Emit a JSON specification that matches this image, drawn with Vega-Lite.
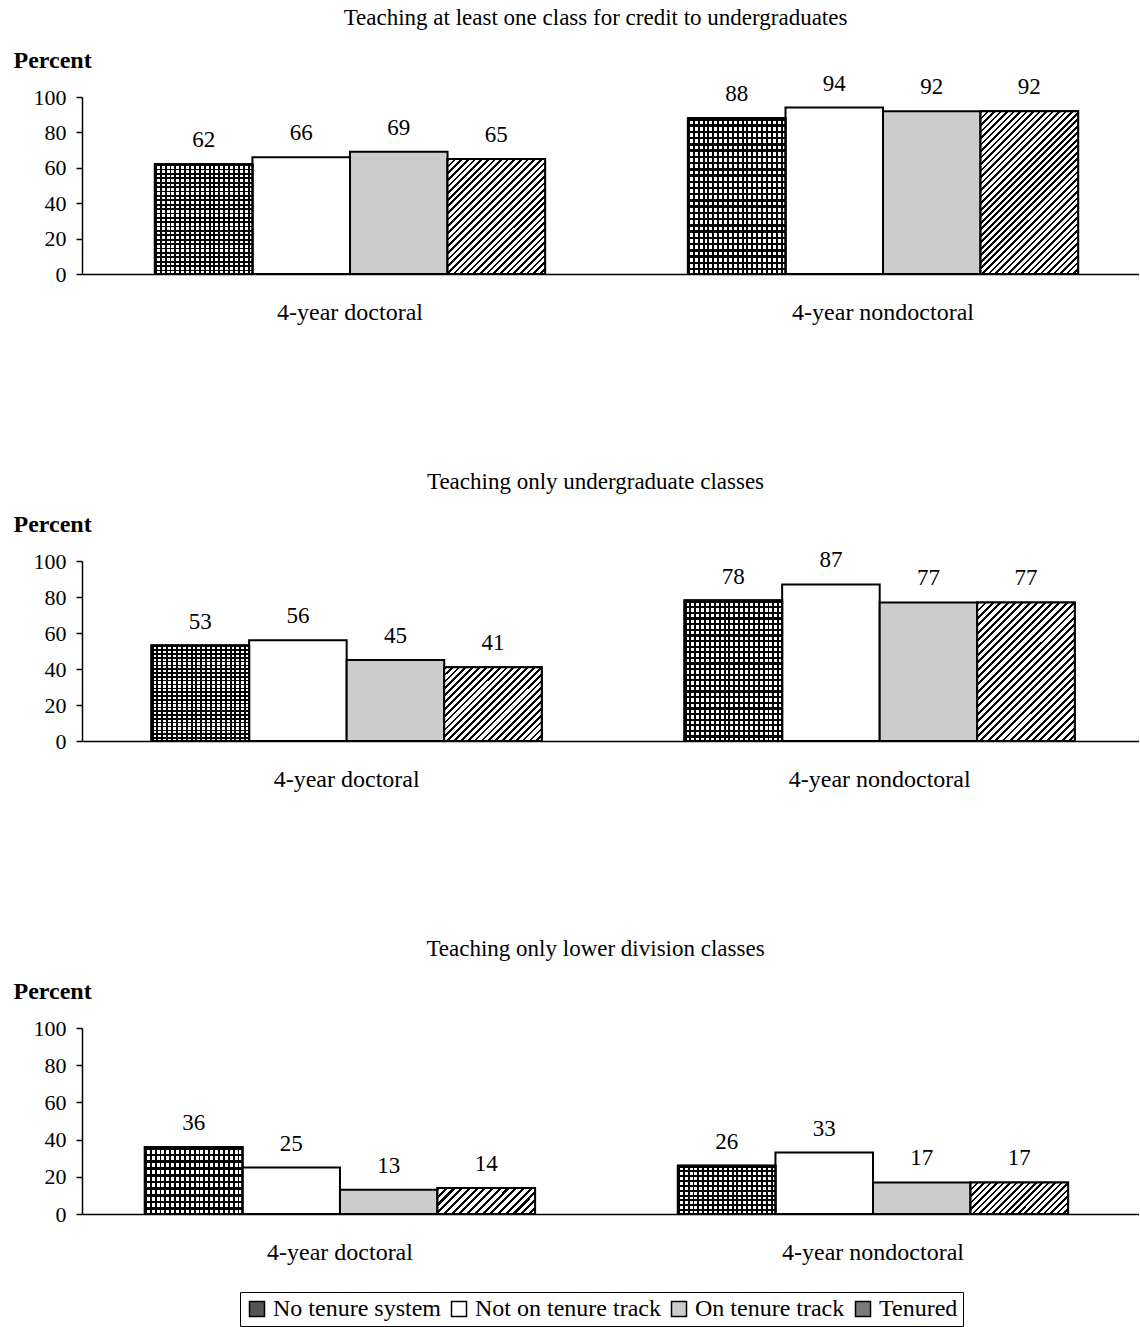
{
  "$schema": "https://vega.github.io/schema/vega-lite/v6.json",
  "padding": {"left": 13, "top": 7, "right": 0, "bottom": 0},
  "background": "white",
  "datasets": {
    "d": [
      {"panel": 1, "group": "4-year doctoral", "status": "No tenure system", "value": 62},
      {"panel": 1, "group": "4-year doctoral", "status": "Not on tenure track", "value": 66},
      {"panel": 1, "group": "4-year doctoral", "status": "On tenure track", "value": 69},
      {"panel": 1, "group": "4-year doctoral", "status": "Tenured", "value": 65},
      {"panel": 1, "group": "4-year nondoctoral", "status": "No tenure system", "value": 88},
      {"panel": 1, "group": "4-year nondoctoral", "status": "Not on tenure track", "value": 94},
      {"panel": 1, "group": "4-year nondoctoral", "status": "On tenure track", "value": 92},
      {"panel": 1, "group": "4-year nondoctoral", "status": "Tenured", "value": 92},
      {"panel": 2, "group": "4-year doctoral", "status": "No tenure system", "value": 53},
      {"panel": 2, "group": "4-year doctoral", "status": "Not on tenure track", "value": 56},
      {"panel": 2, "group": "4-year doctoral", "status": "On tenure track", "value": 45},
      {"panel": 2, "group": "4-year doctoral", "status": "Tenured", "value": 41},
      {"panel": 2, "group": "4-year nondoctoral", "status": "No tenure system", "value": 78},
      {"panel": 2, "group": "4-year nondoctoral", "status": "Not on tenure track", "value": 87},
      {"panel": 2, "group": "4-year nondoctoral", "status": "On tenure track", "value": 77},
      {"panel": 2, "group": "4-year nondoctoral", "status": "Tenured", "value": 77},
      {"panel": 3, "group": "4-year doctoral", "status": "No tenure system", "value": 36},
      {"panel": 3, "group": "4-year doctoral", "status": "Not on tenure track", "value": 25},
      {"panel": 3, "group": "4-year doctoral", "status": "On tenure track", "value": 13},
      {"panel": 3, "group": "4-year doctoral", "status": "Tenured", "value": 14},
      {"panel": 3, "group": "4-year nondoctoral", "status": "No tenure system", "value": 26},
      {"panel": 3, "group": "4-year nondoctoral", "status": "Not on tenure track", "value": 33},
      {"panel": 3, "group": "4-year nondoctoral", "status": "On tenure track", "value": 17},
      {"panel": 3, "group": "4-year nondoctoral", "status": "Tenured", "value": 17}
    ]
  },
  "spacing": 147,
  "vconcat": [
    {
      "title": {"text": "Teaching at least one class for credit to undergraduates"},
      "width": 1057, "height": 177,
      "data": {"name": "d"},
      "transform": [{"filter": "datum.panel == 1"}],
      "encoding": {
        "x": {"field": "group", "type": "nominal", "title": null, "sort": ["4-year doctoral", "4-year nondoctoral"], "scale": {"paddingInner": 0.268, "paddingOuter": 0.1255, "align": 0.545}},
        "xOffset": {"field": "status", "type": "nominal", "scale": {"domain": ["No tenure system", "Not on tenure track", "On tenure track", "Tenured"], "paddingInner": 0, "paddingOuter": 0}},
        "y": {"field": "value", "type": "quantitative", "title": "Percent", "scale": {"domain": [0, 100]}}
      },
      "layer": [
        {"mark": {"type": "bar", "stroke": "#000", "strokeWidth": 2},
         "encoding": {"color": {"field": "status", "type": "nominal", "scale": {"domain": ["No tenure system", "Not on tenure track", "On tenure track", "Tenured"], "range": ["#555555", "#ffffff", "#cccccc", "#7a7a7a"]}, "legend": {"orient": "none", "legendX": 158, "legendY": 1195, "direction": "horizontal", "title": null}}}},
        {"transform": [{"filter": "datum.status == 'No tenure system'"}], "mark": {"type": "bar", "stroke": "#000", "strokeWidth": 2, "fill": {"gradient":"linear","x1":0,"y1":0,"x2":1,"y2":0,"stops":[{"offset":0,"color":"#000"},{"offset":0.02,"color":"#000"},{"offset":0.02,"color":"#fff"},{"offset":0.05,"color":"#fff"},{"offset":0.05,"color":"#000"},{"offset":0.07,"color":"#000"},{"offset":0.07,"color":"#fff"},{"offset":0.1,"color":"#fff"},{"offset":0.1,"color":"#000"},{"offset":0.12,"color":"#000"},{"offset":0.12,"color":"#fff"},{"offset":0.15,"color":"#fff"},{"offset":0.15,"color":"#000"},{"offset":0.17,"color":"#000"},{"offset":0.17,"color":"#fff"},{"offset":0.2,"color":"#fff"},{"offset":0.2,"color":"#000"},{"offset":0.22,"color":"#000"},{"offset":0.22,"color":"#fff"},{"offset":0.25,"color":"#fff"},{"offset":0.25,"color":"#000"},{"offset":0.27,"color":"#000"},{"offset":0.27,"color":"#fff"},{"offset":0.3,"color":"#fff"},{"offset":0.3,"color":"#000"},{"offset":0.32,"color":"#000"},{"offset":0.32,"color":"#fff"},{"offset":0.35,"color":"#fff"},{"offset":0.35,"color":"#000"},{"offset":0.37,"color":"#000"},{"offset":0.37,"color":"#fff"},{"offset":0.4,"color":"#fff"},{"offset":0.4,"color":"#000"},{"offset":0.42,"color":"#000"},{"offset":0.42,"color":"#fff"},{"offset":0.45,"color":"#fff"},{"offset":0.45,"color":"#000"},{"offset":0.47,"color":"#000"},{"offset":0.47,"color":"#fff"},{"offset":0.5,"color":"#fff"},{"offset":0.5,"color":"#000"},{"offset":0.52,"color":"#000"},{"offset":0.52,"color":"#fff"},{"offset":0.55,"color":"#fff"},{"offset":0.55,"color":"#000"},{"offset":0.57,"color":"#000"},{"offset":0.57,"color":"#fff"},{"offset":0.6,"color":"#fff"},{"offset":0.6,"color":"#000"},{"offset":0.62,"color":"#000"},{"offset":0.62,"color":"#fff"},{"offset":0.65,"color":"#fff"},{"offset":0.65,"color":"#000"},{"offset":0.67,"color":"#000"},{"offset":0.67,"color":"#fff"},{"offset":0.7,"color":"#fff"},{"offset":0.7,"color":"#000"},{"offset":0.72,"color":"#000"},{"offset":0.72,"color":"#fff"},{"offset":0.75,"color":"#fff"},{"offset":0.75,"color":"#000"},{"offset":0.77,"color":"#000"},{"offset":0.77,"color":"#fff"},{"offset":0.8,"color":"#fff"},{"offset":0.8,"color":"#000"},{"offset":0.82,"color":"#000"},{"offset":0.82,"color":"#fff"},{"offset":0.85,"color":"#fff"},{"offset":0.85,"color":"#000"},{"offset":0.87,"color":"#000"},{"offset":0.87,"color":"#fff"},{"offset":0.9,"color":"#fff"},{"offset":0.9,"color":"#000"},{"offset":0.92,"color":"#000"},{"offset":0.92,"color":"#fff"},{"offset":0.95,"color":"#fff"},{"offset":0.95,"color":"#000"},{"offset":0.97,"color":"#000"},{"offset":0.97,"color":"#fff"},{"offset":1,"color":"#fff"}]}}},
        {"transform": [{"filter": "datum.status == 'No tenure system'"}], "mark": {"type": "bar", "stroke": "#000", "strokeWidth": 2, "fill": {"gradient":"linear","x1":0,"y1":0,"x2":0,"y2":1,"stops":[{"offset":0,"color":"#000"},{"offset":0.016,"color":"#000"},{"offset":0.016,"color":"transparent"},{"offset":0.04,"color":"transparent"},{"offset":0.04,"color":"#000"},{"offset":0.056,"color":"#000"},{"offset":0.056,"color":"transparent"},{"offset":0.08,"color":"transparent"},{"offset":0.08,"color":"#000"},{"offset":0.096,"color":"#000"},{"offset":0.096,"color":"transparent"},{"offset":0.12,"color":"transparent"},{"offset":0.12,"color":"#000"},{"offset":0.136,"color":"#000"},{"offset":0.136,"color":"transparent"},{"offset":0.16,"color":"transparent"},{"offset":0.16,"color":"#000"},{"offset":0.176,"color":"#000"},{"offset":0.176,"color":"transparent"},{"offset":0.2,"color":"transparent"},{"offset":0.2,"color":"#000"},{"offset":0.216,"color":"#000"},{"offset":0.216,"color":"transparent"},{"offset":0.24,"color":"transparent"},{"offset":0.24,"color":"#000"},{"offset":0.256,"color":"#000"},{"offset":0.256,"color":"transparent"},{"offset":0.28,"color":"transparent"},{"offset":0.28,"color":"#000"},{"offset":0.296,"color":"#000"},{"offset":0.296,"color":"transparent"},{"offset":0.32,"color":"transparent"},{"offset":0.32,"color":"#000"},{"offset":0.336,"color":"#000"},{"offset":0.336,"color":"transparent"},{"offset":0.36,"color":"transparent"},{"offset":0.36,"color":"#000"},{"offset":0.376,"color":"#000"},{"offset":0.376,"color":"transparent"},{"offset":0.4,"color":"transparent"},{"offset":0.4,"color":"#000"},{"offset":0.416,"color":"#000"},{"offset":0.416,"color":"transparent"},{"offset":0.44,"color":"transparent"},{"offset":0.44,"color":"#000"},{"offset":0.456,"color":"#000"},{"offset":0.456,"color":"transparent"},{"offset":0.48,"color":"transparent"},{"offset":0.48,"color":"#000"},{"offset":0.496,"color":"#000"},{"offset":0.496,"color":"transparent"},{"offset":0.52,"color":"transparent"},{"offset":0.52,"color":"#000"},{"offset":0.536,"color":"#000"},{"offset":0.536,"color":"transparent"},{"offset":0.56,"color":"transparent"},{"offset":0.56,"color":"#000"},{"offset":0.576,"color":"#000"},{"offset":0.576,"color":"transparent"},{"offset":0.6,"color":"transparent"},{"offset":0.6,"color":"#000"},{"offset":0.616,"color":"#000"},{"offset":0.616,"color":"transparent"},{"offset":0.64,"color":"transparent"},{"offset":0.64,"color":"#000"},{"offset":0.656,"color":"#000"},{"offset":0.656,"color":"transparent"},{"offset":0.68,"color":"transparent"},{"offset":0.68,"color":"#000"},{"offset":0.696,"color":"#000"},{"offset":0.696,"color":"transparent"},{"offset":0.72,"color":"transparent"},{"offset":0.72,"color":"#000"},{"offset":0.736,"color":"#000"},{"offset":0.736,"color":"transparent"},{"offset":0.76,"color":"transparent"},{"offset":0.76,"color":"#000"},{"offset":0.776,"color":"#000"},{"offset":0.776,"color":"transparent"},{"offset":0.8,"color":"transparent"},{"offset":0.8,"color":"#000"},{"offset":0.816,"color":"#000"},{"offset":0.816,"color":"transparent"},{"offset":0.84,"color":"transparent"},{"offset":0.84,"color":"#000"},{"offset":0.856,"color":"#000"},{"offset":0.856,"color":"transparent"},{"offset":0.88,"color":"transparent"},{"offset":0.88,"color":"#000"},{"offset":0.896,"color":"#000"},{"offset":0.896,"color":"transparent"},{"offset":0.92,"color":"transparent"},{"offset":0.92,"color":"#000"},{"offset":0.936,"color":"#000"},{"offset":0.936,"color":"transparent"},{"offset":0.96,"color":"transparent"},{"offset":0.96,"color":"#000"},{"offset":0.976,"color":"#000"},{"offset":0.976,"color":"transparent"},{"offset":1,"color":"transparent"}]}}},
        {"transform": [{"filter": "datum.status == 'Tenured' && datum.group == '4-year doctoral'"}], "mark": {"type": "bar", "stroke": "#000", "strokeWidth": 2, "fill": {"gradient":"linear","x1":0,"y1":0,"x2":0.911,"y2":1.075,"stops":[{"offset":0,"color":"#000"},{"offset":0.0125,"color":"#000"},{"offset":0.0125,"color":"#fff"},{"offset":0.03125,"color":"#fff"},{"offset":0.03125,"color":"#000"},{"offset":0.04375,"color":"#000"},{"offset":0.04375,"color":"#fff"},{"offset":0.0625,"color":"#fff"},{"offset":0.0625,"color":"#000"},{"offset":0.075,"color":"#000"},{"offset":0.075,"color":"#fff"},{"offset":0.09375,"color":"#fff"},{"offset":0.09375,"color":"#000"},{"offset":0.10625,"color":"#000"},{"offset":0.10625,"color":"#fff"},{"offset":0.125,"color":"#fff"},{"offset":0.125,"color":"#000"},{"offset":0.1375,"color":"#000"},{"offset":0.1375,"color":"#fff"},{"offset":0.15625,"color":"#fff"},{"offset":0.15625,"color":"#000"},{"offset":0.16875,"color":"#000"},{"offset":0.16875,"color":"#fff"},{"offset":0.1875,"color":"#fff"},{"offset":0.1875,"color":"#000"},{"offset":0.2,"color":"#000"},{"offset":0.2,"color":"#fff"},{"offset":0.21875,"color":"#fff"},{"offset":0.21875,"color":"#000"},{"offset":0.23125,"color":"#000"},{"offset":0.23125,"color":"#fff"},{"offset":0.25,"color":"#fff"},{"offset":0.25,"color":"#000"},{"offset":0.2625,"color":"#000"},{"offset":0.2625,"color":"#fff"},{"offset":0.28125,"color":"#fff"},{"offset":0.28125,"color":"#000"},{"offset":0.29375,"color":"#000"},{"offset":0.29375,"color":"#fff"},{"offset":0.3125,"color":"#fff"},{"offset":0.3125,"color":"#000"},{"offset":0.325,"color":"#000"},{"offset":0.325,"color":"#fff"},{"offset":0.34375,"color":"#fff"},{"offset":0.34375,"color":"#000"},{"offset":0.35625,"color":"#000"},{"offset":0.35625,"color":"#fff"},{"offset":0.375,"color":"#fff"},{"offset":0.375,"color":"#000"},{"offset":0.3875,"color":"#000"},{"offset":0.3875,"color":"#fff"},{"offset":0.40625,"color":"#fff"},{"offset":0.40625,"color":"#000"},{"offset":0.41875,"color":"#000"},{"offset":0.41875,"color":"#fff"},{"offset":0.4375,"color":"#fff"},{"offset":0.4375,"color":"#000"},{"offset":0.45,"color":"#000"},{"offset":0.45,"color":"#fff"},{"offset":0.46875,"color":"#fff"},{"offset":0.46875,"color":"#000"},{"offset":0.48125,"color":"#000"},{"offset":0.48125,"color":"#fff"},{"offset":0.5,"color":"#fff"},{"offset":0.5,"color":"#000"},{"offset":0.5125,"color":"#000"},{"offset":0.5125,"color":"#fff"},{"offset":0.53125,"color":"#fff"},{"offset":0.53125,"color":"#000"},{"offset":0.54375,"color":"#000"},{"offset":0.54375,"color":"#fff"},{"offset":0.5625,"color":"#fff"},{"offset":0.5625,"color":"#000"},{"offset":0.575,"color":"#000"},{"offset":0.575,"color":"#fff"},{"offset":0.59375,"color":"#fff"},{"offset":0.59375,"color":"#000"},{"offset":0.60625,"color":"#000"},{"offset":0.60625,"color":"#fff"},{"offset":0.625,"color":"#fff"},{"offset":0.625,"color":"#000"},{"offset":0.6375,"color":"#000"},{"offset":0.6375,"color":"#fff"},{"offset":0.65625,"color":"#fff"},{"offset":0.65625,"color":"#000"},{"offset":0.66875,"color":"#000"},{"offset":0.66875,"color":"#fff"},{"offset":0.6875,"color":"#fff"},{"offset":0.6875,"color":"#000"},{"offset":0.7,"color":"#000"},{"offset":0.7,"color":"#fff"},{"offset":0.71875,"color":"#fff"},{"offset":0.71875,"color":"#000"},{"offset":0.73125,"color":"#000"},{"offset":0.73125,"color":"#fff"},{"offset":0.75,"color":"#fff"},{"offset":0.75,"color":"#000"},{"offset":0.7625,"color":"#000"},{"offset":0.7625,"color":"#fff"},{"offset":0.78125,"color":"#fff"},{"offset":0.78125,"color":"#000"},{"offset":0.79375,"color":"#000"},{"offset":0.79375,"color":"#fff"},{"offset":0.8125,"color":"#fff"},{"offset":0.8125,"color":"#000"},{"offset":0.825,"color":"#000"},{"offset":0.825,"color":"#fff"},{"offset":0.84375,"color":"#fff"},{"offset":0.84375,"color":"#000"},{"offset":0.85625,"color":"#000"},{"offset":0.85625,"color":"#fff"},{"offset":0.875,"color":"#fff"},{"offset":0.875,"color":"#000"},{"offset":0.8875,"color":"#000"},{"offset":0.8875,"color":"#fff"},{"offset":0.90625,"color":"#fff"},{"offset":0.90625,"color":"#000"},{"offset":0.91875,"color":"#000"},{"offset":0.91875,"color":"#fff"},{"offset":0.9375,"color":"#fff"},{"offset":0.9375,"color":"#000"},{"offset":0.95,"color":"#000"},{"offset":0.95,"color":"#fff"},{"offset":0.96875,"color":"#fff"},{"offset":0.96875,"color":"#000"},{"offset":0.98125,"color":"#000"},{"offset":0.98125,"color":"#fff"},{"offset":1,"color":"#fff"}]}}},
        {"transform": [{"filter": "datum.status == 'Tenured' && datum.group == '4-year nondoctoral'"}], "mark": {"type": "bar", "stroke": "#000", "strokeWidth": 2, "fill": {"gradient":"linear","x1":0,"y1":0,"x2":0.705,"y2":1.177,"stops":[{"offset":0,"color":"#000"},{"offset":0.01,"color":"#000"},{"offset":0.01,"color":"#fff"},{"offset":0.025,"color":"#fff"},{"offset":0.025,"color":"#000"},{"offset":0.035,"color":"#000"},{"offset":0.035,"color":"#fff"},{"offset":0.05,"color":"#fff"},{"offset":0.05,"color":"#000"},{"offset":0.06,"color":"#000"},{"offset":0.06,"color":"#fff"},{"offset":0.075,"color":"#fff"},{"offset":0.075,"color":"#000"},{"offset":0.085,"color":"#000"},{"offset":0.085,"color":"#fff"},{"offset":0.1,"color":"#fff"},{"offset":0.1,"color":"#000"},{"offset":0.11,"color":"#000"},{"offset":0.11,"color":"#fff"},{"offset":0.125,"color":"#fff"},{"offset":0.125,"color":"#000"},{"offset":0.135,"color":"#000"},{"offset":0.135,"color":"#fff"},{"offset":0.15,"color":"#fff"},{"offset":0.15,"color":"#000"},{"offset":0.16,"color":"#000"},{"offset":0.16,"color":"#fff"},{"offset":0.175,"color":"#fff"},{"offset":0.175,"color":"#000"},{"offset":0.185,"color":"#000"},{"offset":0.185,"color":"#fff"},{"offset":0.2,"color":"#fff"},{"offset":0.2,"color":"#000"},{"offset":0.21,"color":"#000"},{"offset":0.21,"color":"#fff"},{"offset":0.225,"color":"#fff"},{"offset":0.225,"color":"#000"},{"offset":0.235,"color":"#000"},{"offset":0.235,"color":"#fff"},{"offset":0.25,"color":"#fff"},{"offset":0.25,"color":"#000"},{"offset":0.26,"color":"#000"},{"offset":0.26,"color":"#fff"},{"offset":0.275,"color":"#fff"},{"offset":0.275,"color":"#000"},{"offset":0.285,"color":"#000"},{"offset":0.285,"color":"#fff"},{"offset":0.3,"color":"#fff"},{"offset":0.3,"color":"#000"},{"offset":0.31,"color":"#000"},{"offset":0.31,"color":"#fff"},{"offset":0.325,"color":"#fff"},{"offset":0.325,"color":"#000"},{"offset":0.335,"color":"#000"},{"offset":0.335,"color":"#fff"},{"offset":0.35,"color":"#fff"},{"offset":0.35,"color":"#000"},{"offset":0.36,"color":"#000"},{"offset":0.36,"color":"#fff"},{"offset":0.375,"color":"#fff"},{"offset":0.375,"color":"#000"},{"offset":0.385,"color":"#000"},{"offset":0.385,"color":"#fff"},{"offset":0.4,"color":"#fff"},{"offset":0.4,"color":"#000"},{"offset":0.41,"color":"#000"},{"offset":0.41,"color":"#fff"},{"offset":0.425,"color":"#fff"},{"offset":0.425,"color":"#000"},{"offset":0.435,"color":"#000"},{"offset":0.435,"color":"#fff"},{"offset":0.45,"color":"#fff"},{"offset":0.45,"color":"#000"},{"offset":0.46,"color":"#000"},{"offset":0.46,"color":"#fff"},{"offset":0.475,"color":"#fff"},{"offset":0.475,"color":"#000"},{"offset":0.485,"color":"#000"},{"offset":0.485,"color":"#fff"},{"offset":0.5,"color":"#fff"},{"offset":0.5,"color":"#000"},{"offset":0.51,"color":"#000"},{"offset":0.51,"color":"#fff"},{"offset":0.525,"color":"#fff"},{"offset":0.525,"color":"#000"},{"offset":0.535,"color":"#000"},{"offset":0.535,"color":"#fff"},{"offset":0.55,"color":"#fff"},{"offset":0.55,"color":"#000"},{"offset":0.56,"color":"#000"},{"offset":0.56,"color":"#fff"},{"offset":0.575,"color":"#fff"},{"offset":0.575,"color":"#000"},{"offset":0.585,"color":"#000"},{"offset":0.585,"color":"#fff"},{"offset":0.6,"color":"#fff"},{"offset":0.6,"color":"#000"},{"offset":0.61,"color":"#000"},{"offset":0.61,"color":"#fff"},{"offset":0.625,"color":"#fff"},{"offset":0.625,"color":"#000"},{"offset":0.635,"color":"#000"},{"offset":0.635,"color":"#fff"},{"offset":0.65,"color":"#fff"},{"offset":0.65,"color":"#000"},{"offset":0.66,"color":"#000"},{"offset":0.66,"color":"#fff"},{"offset":0.675,"color":"#fff"},{"offset":0.675,"color":"#000"},{"offset":0.685,"color":"#000"},{"offset":0.685,"color":"#fff"},{"offset":0.7,"color":"#fff"},{"offset":0.7,"color":"#000"},{"offset":0.71,"color":"#000"},{"offset":0.71,"color":"#fff"},{"offset":0.725,"color":"#fff"},{"offset":0.725,"color":"#000"},{"offset":0.735,"color":"#000"},{"offset":0.735,"color":"#fff"},{"offset":0.75,"color":"#fff"},{"offset":0.75,"color":"#000"},{"offset":0.76,"color":"#000"},{"offset":0.76,"color":"#fff"},{"offset":0.775,"color":"#fff"},{"offset":0.775,"color":"#000"},{"offset":0.785,"color":"#000"},{"offset":0.785,"color":"#fff"},{"offset":0.8,"color":"#fff"},{"offset":0.8,"color":"#000"},{"offset":0.81,"color":"#000"},{"offset":0.81,"color":"#fff"},{"offset":0.825,"color":"#fff"},{"offset":0.825,"color":"#000"},{"offset":0.835,"color":"#000"},{"offset":0.835,"color":"#fff"},{"offset":0.85,"color":"#fff"},{"offset":0.85,"color":"#000"},{"offset":0.86,"color":"#000"},{"offset":0.86,"color":"#fff"},{"offset":0.875,"color":"#fff"},{"offset":0.875,"color":"#000"},{"offset":0.885,"color":"#000"},{"offset":0.885,"color":"#fff"},{"offset":0.9,"color":"#fff"},{"offset":0.9,"color":"#000"},{"offset":0.91,"color":"#000"},{"offset":0.91,"color":"#fff"},{"offset":0.925,"color":"#fff"},{"offset":0.925,"color":"#000"},{"offset":0.935,"color":"#000"},{"offset":0.935,"color":"#fff"},{"offset":0.95,"color":"#fff"},{"offset":0.95,"color":"#000"},{"offset":0.96,"color":"#000"},{"offset":0.96,"color":"#fff"},{"offset":0.975,"color":"#fff"},{"offset":0.975,"color":"#000"},{"offset":0.985,"color":"#000"},{"offset":0.985,"color":"#fff"},{"offset":1,"color":"#fff"}]}}},
        {"mark": {"type": "text", "dy": -17, "baseline": "alphabetic"}, "encoding": {"text": {"field": "value", "type": "quantitative"}}}
      ]
    },
    {
      "title": {"text": "Teaching only undergraduate classes"},
      "width": 1057, "height": 180,
      "data": {"name": "d"},
      "transform": [{"filter": "datum.panel == 2"}],
      "encoding": {
        "x": {"field": "group", "type": "nominal", "title": null, "sort": ["4-year doctoral", "4-year nondoctoral"], "scale": {"paddingInner": 0.268, "paddingOuter": 0.1255, "align": 0.52}},
        "xOffset": {"field": "status", "type": "nominal", "scale": {"domain": ["No tenure system", "Not on tenure track", "On tenure track", "Tenured"], "paddingInner": 0, "paddingOuter": 0}},
        "y": {"field": "value", "type": "quantitative", "title": "Percent", "scale": {"domain": [0, 100]}}
      },
      "layer": [
        {"mark": {"type": "bar", "stroke": "#000", "strokeWidth": 2},
         "encoding": {"color": {"field": "status", "type": "nominal", "scale": {"domain": ["No tenure system", "Not on tenure track", "On tenure track", "Tenured"], "range": ["#555555", "#ffffff", "#cccccc", "#7a7a7a"]}, "legend": {"orient": "none", "legendX": 158, "legendY": 1195, "direction": "horizontal", "title": null}}}},
        {"transform": [{"filter": "datum.status == 'No tenure system'"}], "mark": {"type": "bar", "stroke": "#000", "strokeWidth": 2, "fill": {"gradient":"linear","x1":0,"y1":0,"x2":1,"y2":0,"stops":[{"offset":0,"color":"#000"},{"offset":0.02,"color":"#000"},{"offset":0.02,"color":"#fff"},{"offset":0.05,"color":"#fff"},{"offset":0.05,"color":"#000"},{"offset":0.07,"color":"#000"},{"offset":0.07,"color":"#fff"},{"offset":0.1,"color":"#fff"},{"offset":0.1,"color":"#000"},{"offset":0.12,"color":"#000"},{"offset":0.12,"color":"#fff"},{"offset":0.15,"color":"#fff"},{"offset":0.15,"color":"#000"},{"offset":0.17,"color":"#000"},{"offset":0.17,"color":"#fff"},{"offset":0.2,"color":"#fff"},{"offset":0.2,"color":"#000"},{"offset":0.22,"color":"#000"},{"offset":0.22,"color":"#fff"},{"offset":0.25,"color":"#fff"},{"offset":0.25,"color":"#000"},{"offset":0.27,"color":"#000"},{"offset":0.27,"color":"#fff"},{"offset":0.3,"color":"#fff"},{"offset":0.3,"color":"#000"},{"offset":0.32,"color":"#000"},{"offset":0.32,"color":"#fff"},{"offset":0.35,"color":"#fff"},{"offset":0.35,"color":"#000"},{"offset":0.37,"color":"#000"},{"offset":0.37,"color":"#fff"},{"offset":0.4,"color":"#fff"},{"offset":0.4,"color":"#000"},{"offset":0.42,"color":"#000"},{"offset":0.42,"color":"#fff"},{"offset":0.45,"color":"#fff"},{"offset":0.45,"color":"#000"},{"offset":0.47,"color":"#000"},{"offset":0.47,"color":"#fff"},{"offset":0.5,"color":"#fff"},{"offset":0.5,"color":"#000"},{"offset":0.52,"color":"#000"},{"offset":0.52,"color":"#fff"},{"offset":0.55,"color":"#fff"},{"offset":0.55,"color":"#000"},{"offset":0.57,"color":"#000"},{"offset":0.57,"color":"#fff"},{"offset":0.6,"color":"#fff"},{"offset":0.6,"color":"#000"},{"offset":0.62,"color":"#000"},{"offset":0.62,"color":"#fff"},{"offset":0.65,"color":"#fff"},{"offset":0.65,"color":"#000"},{"offset":0.67,"color":"#000"},{"offset":0.67,"color":"#fff"},{"offset":0.7,"color":"#fff"},{"offset":0.7,"color":"#000"},{"offset":0.72,"color":"#000"},{"offset":0.72,"color":"#fff"},{"offset":0.75,"color":"#fff"},{"offset":0.75,"color":"#000"},{"offset":0.77,"color":"#000"},{"offset":0.77,"color":"#fff"},{"offset":0.8,"color":"#fff"},{"offset":0.8,"color":"#000"},{"offset":0.82,"color":"#000"},{"offset":0.82,"color":"#fff"},{"offset":0.85,"color":"#fff"},{"offset":0.85,"color":"#000"},{"offset":0.87,"color":"#000"},{"offset":0.87,"color":"#fff"},{"offset":0.9,"color":"#fff"},{"offset":0.9,"color":"#000"},{"offset":0.92,"color":"#000"},{"offset":0.92,"color":"#fff"},{"offset":0.95,"color":"#fff"},{"offset":0.95,"color":"#000"},{"offset":0.97,"color":"#000"},{"offset":0.97,"color":"#fff"},{"offset":1,"color":"#fff"}]}}},
        {"transform": [{"filter": "datum.status == 'No tenure system'"}], "mark": {"type": "bar", "stroke": "#000", "strokeWidth": 2, "fill": {"gradient":"linear","x1":0,"y1":0,"x2":0,"y2":1,"stops":[{"offset":0,"color":"#000"},{"offset":0.016,"color":"#000"},{"offset":0.016,"color":"transparent"},{"offset":0.04,"color":"transparent"},{"offset":0.04,"color":"#000"},{"offset":0.056,"color":"#000"},{"offset":0.056,"color":"transparent"},{"offset":0.08,"color":"transparent"},{"offset":0.08,"color":"#000"},{"offset":0.096,"color":"#000"},{"offset":0.096,"color":"transparent"},{"offset":0.12,"color":"transparent"},{"offset":0.12,"color":"#000"},{"offset":0.136,"color":"#000"},{"offset":0.136,"color":"transparent"},{"offset":0.16,"color":"transparent"},{"offset":0.16,"color":"#000"},{"offset":0.176,"color":"#000"},{"offset":0.176,"color":"transparent"},{"offset":0.2,"color":"transparent"},{"offset":0.2,"color":"#000"},{"offset":0.216,"color":"#000"},{"offset":0.216,"color":"transparent"},{"offset":0.24,"color":"transparent"},{"offset":0.24,"color":"#000"},{"offset":0.256,"color":"#000"},{"offset":0.256,"color":"transparent"},{"offset":0.28,"color":"transparent"},{"offset":0.28,"color":"#000"},{"offset":0.296,"color":"#000"},{"offset":0.296,"color":"transparent"},{"offset":0.32,"color":"transparent"},{"offset":0.32,"color":"#000"},{"offset":0.336,"color":"#000"},{"offset":0.336,"color":"transparent"},{"offset":0.36,"color":"transparent"},{"offset":0.36,"color":"#000"},{"offset":0.376,"color":"#000"},{"offset":0.376,"color":"transparent"},{"offset":0.4,"color":"transparent"},{"offset":0.4,"color":"#000"},{"offset":0.416,"color":"#000"},{"offset":0.416,"color":"transparent"},{"offset":0.44,"color":"transparent"},{"offset":0.44,"color":"#000"},{"offset":0.456,"color":"#000"},{"offset":0.456,"color":"transparent"},{"offset":0.48,"color":"transparent"},{"offset":0.48,"color":"#000"},{"offset":0.496,"color":"#000"},{"offset":0.496,"color":"transparent"},{"offset":0.52,"color":"transparent"},{"offset":0.52,"color":"#000"},{"offset":0.536,"color":"#000"},{"offset":0.536,"color":"transparent"},{"offset":0.56,"color":"transparent"},{"offset":0.56,"color":"#000"},{"offset":0.576,"color":"#000"},{"offset":0.576,"color":"transparent"},{"offset":0.6,"color":"transparent"},{"offset":0.6,"color":"#000"},{"offset":0.616,"color":"#000"},{"offset":0.616,"color":"transparent"},{"offset":0.64,"color":"transparent"},{"offset":0.64,"color":"#000"},{"offset":0.656,"color":"#000"},{"offset":0.656,"color":"transparent"},{"offset":0.68,"color":"transparent"},{"offset":0.68,"color":"#000"},{"offset":0.696,"color":"#000"},{"offset":0.696,"color":"transparent"},{"offset":0.72,"color":"transparent"},{"offset":0.72,"color":"#000"},{"offset":0.736,"color":"#000"},{"offset":0.736,"color":"transparent"},{"offset":0.76,"color":"transparent"},{"offset":0.76,"color":"#000"},{"offset":0.776,"color":"#000"},{"offset":0.776,"color":"transparent"},{"offset":0.8,"color":"transparent"},{"offset":0.8,"color":"#000"},{"offset":0.816,"color":"#000"},{"offset":0.816,"color":"transparent"},{"offset":0.84,"color":"transparent"},{"offset":0.84,"color":"#000"},{"offset":0.856,"color":"#000"},{"offset":0.856,"color":"transparent"},{"offset":0.88,"color":"transparent"},{"offset":0.88,"color":"#000"},{"offset":0.896,"color":"#000"},{"offset":0.896,"color":"transparent"},{"offset":0.92,"color":"transparent"},{"offset":0.92,"color":"#000"},{"offset":0.936,"color":"#000"},{"offset":0.936,"color":"transparent"},{"offset":0.96,"color":"transparent"},{"offset":0.96,"color":"#000"},{"offset":0.976,"color":"#000"},{"offset":0.976,"color":"transparent"},{"offset":1,"color":"transparent"}]}}},
        {"transform": [{"filter": "datum.status == 'Tenured' && datum.group == '4-year doctoral'"}], "mark": {"type": "bar", "stroke": "#000", "strokeWidth": 2, "fill": {"gradient":"linear","x1":0,"y1":0,"x2":1.117,"y2":0.846,"stops":[{"offset":0,"color":"#000"},{"offset":0.016,"color":"#000"},{"offset":0.016,"color":"#fff"},{"offset":0.04,"color":"#fff"},{"offset":0.04,"color":"#000"},{"offset":0.056,"color":"#000"},{"offset":0.056,"color":"#fff"},{"offset":0.08,"color":"#fff"},{"offset":0.08,"color":"#000"},{"offset":0.096,"color":"#000"},{"offset":0.096,"color":"#fff"},{"offset":0.12,"color":"#fff"},{"offset":0.12,"color":"#000"},{"offset":0.136,"color":"#000"},{"offset":0.136,"color":"#fff"},{"offset":0.16,"color":"#fff"},{"offset":0.16,"color":"#000"},{"offset":0.176,"color":"#000"},{"offset":0.176,"color":"#fff"},{"offset":0.2,"color":"#fff"},{"offset":0.2,"color":"#000"},{"offset":0.216,"color":"#000"},{"offset":0.216,"color":"#fff"},{"offset":0.24,"color":"#fff"},{"offset":0.24,"color":"#000"},{"offset":0.256,"color":"#000"},{"offset":0.256,"color":"#fff"},{"offset":0.28,"color":"#fff"},{"offset":0.28,"color":"#000"},{"offset":0.296,"color":"#000"},{"offset":0.296,"color":"#fff"},{"offset":0.32,"color":"#fff"},{"offset":0.32,"color":"#000"},{"offset":0.336,"color":"#000"},{"offset":0.336,"color":"#fff"},{"offset":0.36,"color":"#fff"},{"offset":0.36,"color":"#000"},{"offset":0.376,"color":"#000"},{"offset":0.376,"color":"#fff"},{"offset":0.4,"color":"#fff"},{"offset":0.4,"color":"#000"},{"offset":0.416,"color":"#000"},{"offset":0.416,"color":"#fff"},{"offset":0.44,"color":"#fff"},{"offset":0.44,"color":"#000"},{"offset":0.456,"color":"#000"},{"offset":0.456,"color":"#fff"},{"offset":0.48,"color":"#fff"},{"offset":0.48,"color":"#000"},{"offset":0.496,"color":"#000"},{"offset":0.496,"color":"#fff"},{"offset":0.52,"color":"#fff"},{"offset":0.52,"color":"#000"},{"offset":0.536,"color":"#000"},{"offset":0.536,"color":"#fff"},{"offset":0.56,"color":"#fff"},{"offset":0.56,"color":"#000"},{"offset":0.576,"color":"#000"},{"offset":0.576,"color":"#fff"},{"offset":0.6,"color":"#fff"},{"offset":0.6,"color":"#000"},{"offset":0.616,"color":"#000"},{"offset":0.616,"color":"#fff"},{"offset":0.64,"color":"#fff"},{"offset":0.64,"color":"#000"},{"offset":0.656,"color":"#000"},{"offset":0.656,"color":"#fff"},{"offset":0.68,"color":"#fff"},{"offset":0.68,"color":"#000"},{"offset":0.696,"color":"#000"},{"offset":0.696,"color":"#fff"},{"offset":0.72,"color":"#fff"},{"offset":0.72,"color":"#000"},{"offset":0.736,"color":"#000"},{"offset":0.736,"color":"#fff"},{"offset":0.76,"color":"#fff"},{"offset":0.76,"color":"#000"},{"offset":0.776,"color":"#000"},{"offset":0.776,"color":"#fff"},{"offset":0.8,"color":"#fff"},{"offset":0.8,"color":"#000"},{"offset":0.816,"color":"#000"},{"offset":0.816,"color":"#fff"},{"offset":0.84,"color":"#fff"},{"offset":0.84,"color":"#000"},{"offset":0.856,"color":"#000"},{"offset":0.856,"color":"#fff"},{"offset":0.88,"color":"#fff"},{"offset":0.88,"color":"#000"},{"offset":0.896,"color":"#000"},{"offset":0.896,"color":"#fff"},{"offset":0.92,"color":"#fff"},{"offset":0.92,"color":"#000"},{"offset":0.936,"color":"#000"},{"offset":0.936,"color":"#fff"},{"offset":0.96,"color":"#fff"},{"offset":0.96,"color":"#000"},{"offset":0.976,"color":"#000"},{"offset":0.976,"color":"#fff"},{"offset":1,"color":"#fff"}]}}},
        {"transform": [{"filter": "datum.status == 'Tenured' && datum.group == '4-year nondoctoral'"}], "mark": {"type": "bar", "stroke": "#000", "strokeWidth": 2, "fill": {"gradient":"linear","x1":0,"y1":0,"x2":0.802,"y2":1.14,"stops":[{"offset":0,"color":"#000"},{"offset":0.0125,"color":"#000"},{"offset":0.0125,"color":"#fff"},{"offset":0.03125,"color":"#fff"},{"offset":0.03125,"color":"#000"},{"offset":0.04375,"color":"#000"},{"offset":0.04375,"color":"#fff"},{"offset":0.0625,"color":"#fff"},{"offset":0.0625,"color":"#000"},{"offset":0.075,"color":"#000"},{"offset":0.075,"color":"#fff"},{"offset":0.09375,"color":"#fff"},{"offset":0.09375,"color":"#000"},{"offset":0.10625,"color":"#000"},{"offset":0.10625,"color":"#fff"},{"offset":0.125,"color":"#fff"},{"offset":0.125,"color":"#000"},{"offset":0.1375,"color":"#000"},{"offset":0.1375,"color":"#fff"},{"offset":0.15625,"color":"#fff"},{"offset":0.15625,"color":"#000"},{"offset":0.16875,"color":"#000"},{"offset":0.16875,"color":"#fff"},{"offset":0.1875,"color":"#fff"},{"offset":0.1875,"color":"#000"},{"offset":0.2,"color":"#000"},{"offset":0.2,"color":"#fff"},{"offset":0.21875,"color":"#fff"},{"offset":0.21875,"color":"#000"},{"offset":0.23125,"color":"#000"},{"offset":0.23125,"color":"#fff"},{"offset":0.25,"color":"#fff"},{"offset":0.25,"color":"#000"},{"offset":0.2625,"color":"#000"},{"offset":0.2625,"color":"#fff"},{"offset":0.28125,"color":"#fff"},{"offset":0.28125,"color":"#000"},{"offset":0.29375,"color":"#000"},{"offset":0.29375,"color":"#fff"},{"offset":0.3125,"color":"#fff"},{"offset":0.3125,"color":"#000"},{"offset":0.325,"color":"#000"},{"offset":0.325,"color":"#fff"},{"offset":0.34375,"color":"#fff"},{"offset":0.34375,"color":"#000"},{"offset":0.35625,"color":"#000"},{"offset":0.35625,"color":"#fff"},{"offset":0.375,"color":"#fff"},{"offset":0.375,"color":"#000"},{"offset":0.3875,"color":"#000"},{"offset":0.3875,"color":"#fff"},{"offset":0.40625,"color":"#fff"},{"offset":0.40625,"color":"#000"},{"offset":0.41875,"color":"#000"},{"offset":0.41875,"color":"#fff"},{"offset":0.4375,"color":"#fff"},{"offset":0.4375,"color":"#000"},{"offset":0.45,"color":"#000"},{"offset":0.45,"color":"#fff"},{"offset":0.46875,"color":"#fff"},{"offset":0.46875,"color":"#000"},{"offset":0.48125,"color":"#000"},{"offset":0.48125,"color":"#fff"},{"offset":0.5,"color":"#fff"},{"offset":0.5,"color":"#000"},{"offset":0.5125,"color":"#000"},{"offset":0.5125,"color":"#fff"},{"offset":0.53125,"color":"#fff"},{"offset":0.53125,"color":"#000"},{"offset":0.54375,"color":"#000"},{"offset":0.54375,"color":"#fff"},{"offset":0.5625,"color":"#fff"},{"offset":0.5625,"color":"#000"},{"offset":0.575,"color":"#000"},{"offset":0.575,"color":"#fff"},{"offset":0.59375,"color":"#fff"},{"offset":0.59375,"color":"#000"},{"offset":0.60625,"color":"#000"},{"offset":0.60625,"color":"#fff"},{"offset":0.625,"color":"#fff"},{"offset":0.625,"color":"#000"},{"offset":0.6375,"color":"#000"},{"offset":0.6375,"color":"#fff"},{"offset":0.65625,"color":"#fff"},{"offset":0.65625,"color":"#000"},{"offset":0.66875,"color":"#000"},{"offset":0.66875,"color":"#fff"},{"offset":0.6875,"color":"#fff"},{"offset":0.6875,"color":"#000"},{"offset":0.7,"color":"#000"},{"offset":0.7,"color":"#fff"},{"offset":0.71875,"color":"#fff"},{"offset":0.71875,"color":"#000"},{"offset":0.73125,"color":"#000"},{"offset":0.73125,"color":"#fff"},{"offset":0.75,"color":"#fff"},{"offset":0.75,"color":"#000"},{"offset":0.7625,"color":"#000"},{"offset":0.7625,"color":"#fff"},{"offset":0.78125,"color":"#fff"},{"offset":0.78125,"color":"#000"},{"offset":0.79375,"color":"#000"},{"offset":0.79375,"color":"#fff"},{"offset":0.8125,"color":"#fff"},{"offset":0.8125,"color":"#000"},{"offset":0.825,"color":"#000"},{"offset":0.825,"color":"#fff"},{"offset":0.84375,"color":"#fff"},{"offset":0.84375,"color":"#000"},{"offset":0.85625,"color":"#000"},{"offset":0.85625,"color":"#fff"},{"offset":0.875,"color":"#fff"},{"offset":0.875,"color":"#000"},{"offset":0.8875,"color":"#000"},{"offset":0.8875,"color":"#fff"},{"offset":0.90625,"color":"#fff"},{"offset":0.90625,"color":"#000"},{"offset":0.91875,"color":"#000"},{"offset":0.91875,"color":"#fff"},{"offset":0.9375,"color":"#fff"},{"offset":0.9375,"color":"#000"},{"offset":0.95,"color":"#000"},{"offset":0.95,"color":"#fff"},{"offset":0.96875,"color":"#fff"},{"offset":0.96875,"color":"#000"},{"offset":0.98125,"color":"#000"},{"offset":0.98125,"color":"#fff"},{"offset":1,"color":"#fff"}]}}},
        {"mark": {"type": "text", "dy": -17, "baseline": "alphabetic"}, "encoding": {"text": {"field": "value", "type": "quantitative"}}}
      ]
    },
    {
      "title": {"text": "Teaching only lower division classes"},
      "width": 1057, "height": 186,
      "data": {"name": "d"},
      "transform": [{"filter": "datum.panel == 3"}],
      "encoding": {
        "x": {"field": "group", "type": "nominal", "title": null, "sort": ["4-year doctoral", "4-year nondoctoral"], "scale": {"paddingInner": 0.268, "paddingOuter": 0.1255, "align": 0.47}},
        "xOffset": {"field": "status", "type": "nominal", "scale": {"domain": ["No tenure system", "Not on tenure track", "On tenure track", "Tenured"], "paddingInner": 0, "paddingOuter": 0}},
        "y": {"field": "value", "type": "quantitative", "title": "Percent", "scale": {"domain": [0, 100]}}
      },
      "layer": [
        {"mark": {"type": "bar", "stroke": "#000", "strokeWidth": 2},
         "encoding": {"color": {"field": "status", "type": "nominal", "scale": {"domain": ["No tenure system", "Not on tenure track", "On tenure track", "Tenured"], "range": ["#555555", "#ffffff", "#cccccc", "#7a7a7a"]}, "legend": {"orient": "none", "legendX": 158, "legendY": 1195, "direction": "horizontal", "title": null}}}},
        {"transform": [{"filter": "datum.status == 'No tenure system'"}], "mark": {"type": "bar", "stroke": "#000", "strokeWidth": 2, "fill": {"gradient":"linear","x1":0,"y1":0,"x2":1,"y2":0,"stops":[{"offset":0,"color":"#000"},{"offset":0.02,"color":"#000"},{"offset":0.02,"color":"#fff"},{"offset":0.05,"color":"#fff"},{"offset":0.05,"color":"#000"},{"offset":0.07,"color":"#000"},{"offset":0.07,"color":"#fff"},{"offset":0.1,"color":"#fff"},{"offset":0.1,"color":"#000"},{"offset":0.12,"color":"#000"},{"offset":0.12,"color":"#fff"},{"offset":0.15,"color":"#fff"},{"offset":0.15,"color":"#000"},{"offset":0.17,"color":"#000"},{"offset":0.17,"color":"#fff"},{"offset":0.2,"color":"#fff"},{"offset":0.2,"color":"#000"},{"offset":0.22,"color":"#000"},{"offset":0.22,"color":"#fff"},{"offset":0.25,"color":"#fff"},{"offset":0.25,"color":"#000"},{"offset":0.27,"color":"#000"},{"offset":0.27,"color":"#fff"},{"offset":0.3,"color":"#fff"},{"offset":0.3,"color":"#000"},{"offset":0.32,"color":"#000"},{"offset":0.32,"color":"#fff"},{"offset":0.35,"color":"#fff"},{"offset":0.35,"color":"#000"},{"offset":0.37,"color":"#000"},{"offset":0.37,"color":"#fff"},{"offset":0.4,"color":"#fff"},{"offset":0.4,"color":"#000"},{"offset":0.42,"color":"#000"},{"offset":0.42,"color":"#fff"},{"offset":0.45,"color":"#fff"},{"offset":0.45,"color":"#000"},{"offset":0.47,"color":"#000"},{"offset":0.47,"color":"#fff"},{"offset":0.5,"color":"#fff"},{"offset":0.5,"color":"#000"},{"offset":0.52,"color":"#000"},{"offset":0.52,"color":"#fff"},{"offset":0.55,"color":"#fff"},{"offset":0.55,"color":"#000"},{"offset":0.57,"color":"#000"},{"offset":0.57,"color":"#fff"},{"offset":0.6,"color":"#fff"},{"offset":0.6,"color":"#000"},{"offset":0.62,"color":"#000"},{"offset":0.62,"color":"#fff"},{"offset":0.65,"color":"#fff"},{"offset":0.65,"color":"#000"},{"offset":0.67,"color":"#000"},{"offset":0.67,"color":"#fff"},{"offset":0.7,"color":"#fff"},{"offset":0.7,"color":"#000"},{"offset":0.72,"color":"#000"},{"offset":0.72,"color":"#fff"},{"offset":0.75,"color":"#fff"},{"offset":0.75,"color":"#000"},{"offset":0.77,"color":"#000"},{"offset":0.77,"color":"#fff"},{"offset":0.8,"color":"#fff"},{"offset":0.8,"color":"#000"},{"offset":0.82,"color":"#000"},{"offset":0.82,"color":"#fff"},{"offset":0.85,"color":"#fff"},{"offset":0.85,"color":"#000"},{"offset":0.87,"color":"#000"},{"offset":0.87,"color":"#fff"},{"offset":0.9,"color":"#fff"},{"offset":0.9,"color":"#000"},{"offset":0.92,"color":"#000"},{"offset":0.92,"color":"#fff"},{"offset":0.95,"color":"#fff"},{"offset":0.95,"color":"#000"},{"offset":0.97,"color":"#000"},{"offset":0.97,"color":"#fff"},{"offset":1,"color":"#fff"}]}}},
        {"transform": [{"filter": "datum.status == 'No tenure system'"}], "mark": {"type": "bar", "stroke": "#000", "strokeWidth": 2, "fill": {"gradient":"linear","x1":0,"y1":0,"x2":0,"y2":1,"stops":[{"offset":0,"color":"#000"},{"offset":0.04,"color":"#000"},{"offset":0.04,"color":"transparent"},{"offset":0.1,"color":"transparent"},{"offset":0.1,"color":"#000"},{"offset":0.14,"color":"#000"},{"offset":0.14,"color":"transparent"},{"offset":0.2,"color":"transparent"},{"offset":0.2,"color":"#000"},{"offset":0.24,"color":"#000"},{"offset":0.24,"color":"transparent"},{"offset":0.3,"color":"transparent"},{"offset":0.3,"color":"#000"},{"offset":0.34,"color":"#000"},{"offset":0.34,"color":"transparent"},{"offset":0.4,"color":"transparent"},{"offset":0.4,"color":"#000"},{"offset":0.44,"color":"#000"},{"offset":0.44,"color":"transparent"},{"offset":0.5,"color":"transparent"},{"offset":0.5,"color":"#000"},{"offset":0.54,"color":"#000"},{"offset":0.54,"color":"transparent"},{"offset":0.6,"color":"transparent"},{"offset":0.6,"color":"#000"},{"offset":0.64,"color":"#000"},{"offset":0.64,"color":"transparent"},{"offset":0.7,"color":"transparent"},{"offset":0.7,"color":"#000"},{"offset":0.74,"color":"#000"},{"offset":0.74,"color":"transparent"},{"offset":0.8,"color":"transparent"},{"offset":0.8,"color":"#000"},{"offset":0.84,"color":"#000"},{"offset":0.84,"color":"transparent"},{"offset":0.9,"color":"transparent"},{"offset":0.9,"color":"#000"},{"offset":0.94,"color":"#000"},{"offset":0.94,"color":"transparent"},{"offset":1,"color":"transparent"}]}}},
        {"transform": [{"filter": "datum.status == 'Tenured' && datum.group == '4-year doctoral'"}], "mark": {"type": "bar", "stroke": "#000", "strokeWidth": 2, "fill": {"gradient":"linear","x1":0,"y1":0,"x2":1.183,"y2":0.315,"stops":[{"offset":0,"color":"#000"},{"offset":0.025,"color":"#000"},{"offset":0.025,"color":"#fff"},{"offset":0.0625,"color":"#fff"},{"offset":0.0625,"color":"#000"},{"offset":0.0875,"color":"#000"},{"offset":0.0875,"color":"#fff"},{"offset":0.125,"color":"#fff"},{"offset":0.125,"color":"#000"},{"offset":0.15,"color":"#000"},{"offset":0.15,"color":"#fff"},{"offset":0.1875,"color":"#fff"},{"offset":0.1875,"color":"#000"},{"offset":0.2125,"color":"#000"},{"offset":0.2125,"color":"#fff"},{"offset":0.25,"color":"#fff"},{"offset":0.25,"color":"#000"},{"offset":0.275,"color":"#000"},{"offset":0.275,"color":"#fff"},{"offset":0.3125,"color":"#fff"},{"offset":0.3125,"color":"#000"},{"offset":0.3375,"color":"#000"},{"offset":0.3375,"color":"#fff"},{"offset":0.375,"color":"#fff"},{"offset":0.375,"color":"#000"},{"offset":0.4,"color":"#000"},{"offset":0.4,"color":"#fff"},{"offset":0.4375,"color":"#fff"},{"offset":0.4375,"color":"#000"},{"offset":0.4625,"color":"#000"},{"offset":0.4625,"color":"#fff"},{"offset":0.5,"color":"#fff"},{"offset":0.5,"color":"#000"},{"offset":0.525,"color":"#000"},{"offset":0.525,"color":"#fff"},{"offset":0.5625,"color":"#fff"},{"offset":0.5625,"color":"#000"},{"offset":0.5875,"color":"#000"},{"offset":0.5875,"color":"#fff"},{"offset":0.625,"color":"#fff"},{"offset":0.625,"color":"#000"},{"offset":0.65,"color":"#000"},{"offset":0.65,"color":"#fff"},{"offset":0.6875,"color":"#fff"},{"offset":0.6875,"color":"#000"},{"offset":0.7125,"color":"#000"},{"offset":0.7125,"color":"#fff"},{"offset":0.75,"color":"#fff"},{"offset":0.75,"color":"#000"},{"offset":0.775,"color":"#000"},{"offset":0.775,"color":"#fff"},{"offset":0.8125,"color":"#fff"},{"offset":0.8125,"color":"#000"},{"offset":0.8375,"color":"#000"},{"offset":0.8375,"color":"#fff"},{"offset":0.875,"color":"#fff"},{"offset":0.875,"color":"#000"},{"offset":0.9,"color":"#000"},{"offset":0.9,"color":"#fff"},{"offset":0.9375,"color":"#fff"},{"offset":0.9375,"color":"#000"},{"offset":0.9625,"color":"#000"},{"offset":0.9625,"color":"#fff"},{"offset":1,"color":"#fff"}]}}},
        {"transform": [{"filter": "datum.status == 'Tenured' && datum.group == '4-year nondoctoral'"}], "mark": {"type": "bar", "stroke": "#000", "strokeWidth": 2, "fill": {"gradient":"linear","x1":0,"y1":0,"x2":1.198,"y2":0.388,"stops":[{"offset":0,"color":"#000"},{"offset":0.02,"color":"#000"},{"offset":0.02,"color":"#fff"},{"offset":0.05,"color":"#fff"},{"offset":0.05,"color":"#000"},{"offset":0.07,"color":"#000"},{"offset":0.07,"color":"#fff"},{"offset":0.1,"color":"#fff"},{"offset":0.1,"color":"#000"},{"offset":0.12,"color":"#000"},{"offset":0.12,"color":"#fff"},{"offset":0.15,"color":"#fff"},{"offset":0.15,"color":"#000"},{"offset":0.17,"color":"#000"},{"offset":0.17,"color":"#fff"},{"offset":0.2,"color":"#fff"},{"offset":0.2,"color":"#000"},{"offset":0.22,"color":"#000"},{"offset":0.22,"color":"#fff"},{"offset":0.25,"color":"#fff"},{"offset":0.25,"color":"#000"},{"offset":0.27,"color":"#000"},{"offset":0.27,"color":"#fff"},{"offset":0.3,"color":"#fff"},{"offset":0.3,"color":"#000"},{"offset":0.32,"color":"#000"},{"offset":0.32,"color":"#fff"},{"offset":0.35,"color":"#fff"},{"offset":0.35,"color":"#000"},{"offset":0.37,"color":"#000"},{"offset":0.37,"color":"#fff"},{"offset":0.4,"color":"#fff"},{"offset":0.4,"color":"#000"},{"offset":0.42,"color":"#000"},{"offset":0.42,"color":"#fff"},{"offset":0.45,"color":"#fff"},{"offset":0.45,"color":"#000"},{"offset":0.47,"color":"#000"},{"offset":0.47,"color":"#fff"},{"offset":0.5,"color":"#fff"},{"offset":0.5,"color":"#000"},{"offset":0.52,"color":"#000"},{"offset":0.52,"color":"#fff"},{"offset":0.55,"color":"#fff"},{"offset":0.55,"color":"#000"},{"offset":0.57,"color":"#000"},{"offset":0.57,"color":"#fff"},{"offset":0.6,"color":"#fff"},{"offset":0.6,"color":"#000"},{"offset":0.62,"color":"#000"},{"offset":0.62,"color":"#fff"},{"offset":0.65,"color":"#fff"},{"offset":0.65,"color":"#000"},{"offset":0.67,"color":"#000"},{"offset":0.67,"color":"#fff"},{"offset":0.7,"color":"#fff"},{"offset":0.7,"color":"#000"},{"offset":0.72,"color":"#000"},{"offset":0.72,"color":"#fff"},{"offset":0.75,"color":"#fff"},{"offset":0.75,"color":"#000"},{"offset":0.77,"color":"#000"},{"offset":0.77,"color":"#fff"},{"offset":0.8,"color":"#fff"},{"offset":0.8,"color":"#000"},{"offset":0.82,"color":"#000"},{"offset":0.82,"color":"#fff"},{"offset":0.85,"color":"#fff"},{"offset":0.85,"color":"#000"},{"offset":0.87,"color":"#000"},{"offset":0.87,"color":"#fff"},{"offset":0.9,"color":"#fff"},{"offset":0.9,"color":"#000"},{"offset":0.92,"color":"#000"},{"offset":0.92,"color":"#fff"},{"offset":0.95,"color":"#fff"},{"offset":0.95,"color":"#000"},{"offset":0.97,"color":"#000"},{"offset":0.97,"color":"#fff"},{"offset":1,"color":"#fff"}]}}},
        {"mark": {"type": "text", "dy": -17, "baseline": "alphabetic"}, "encoding": {"text": {"field": "value", "type": "quantitative"}}}
      ]
    }
  ],
  "config": {
    "font": "Liberation Serif",
    "view": {"stroke": null},
    "text": {"font": "Liberation Serif", "fontSize": 23, "color": "#000"},
    "title": {"font": "Liberation Serif", "fontSize": 23, "fontWeight": "normal", "color": "#000", "frame": "group", "anchor": "middle", "offset": 18, "dx": -15},
    "axisX": {"domain": true, "domainColor": "#000", "domainWidth": 1.5, "ticks": false, "labelAngle": 0, "labelFont": "Liberation Serif", "labelFontSize": 24, "labelColor": "#000", "labelPadding": 26, "labelLimit": 400, "grid": false},
    "axisY": {"domain": true, "domainColor": "#000", "domainWidth": 1.5, "ticks": true, "tickColor": "#000", "tickWidth": 1.5, "tickSize": 6, "tickCount": 5, "labelFont": "Liberation Serif", "labelFontSize": 22, "labelColor": "#000", "labelPadding": 10, "grid": false, "titleAngle": 0, "titleAlign": "left", "titleBaseline": "alphabetic", "titleX": -69, "titleY": -30, "titleFont": "Liberation Serif", "titleFontWeight": "bold", "titleFontSize": 24, "titleColor": "#000"},
    "legend": {"symbolType": "square", "symbolSize": 225, "symbolStrokeColor": "#000", "symbolStrokeWidth": 1.5, "labelFont": "Liberation Serif", "labelFontSize": 24, "labelColor": "#000", "labelLimit": 400, "strokeColor": "#000", "padding": 5, "columnPadding": 6, "labelOffset": 4}
  }
}
